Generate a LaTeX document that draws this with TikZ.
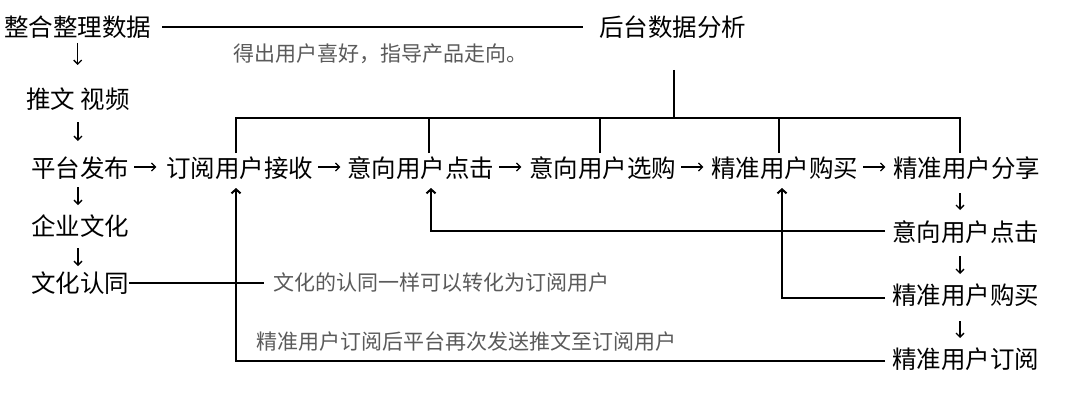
\documentclass[tikz,border=0pt]{standalone}
\usepackage{fontspec}
\newfontfamily\cjk{Noto Sans CJK SC}
\usetikzlibrary{arrows.meta}
\definecolor{notegray}{RGB}{90,90,90}
\begin{document}
\begin{tikzpicture}[x=1pt,y=-1pt,
  lbl/.style={font=\cjk\fontsize{24.5}{24.5}\selectfont, inner sep=0pt, anchor=west, text=black},
  note/.style={font=\cjk\fontsize{21}{21}\selectfont, inner sep=0pt, anchor=west, text=notegray},
  link/.style={line width=2pt},
  tarr/.style={line width=1.3pt, -{Straight Barb[length=4pt,width=8pt]}},
  farr/.style={line width=2pt, -{Straight Barb[length=4pt,width=9pt]}}
]
\useasboundingbox[fill=white] (0,0) rectangle (1074,404);

% top
\node[lbl] (n1) at (4,27) {整合整理数据};
\node[lbl] (n2) at (599,27) {后台数据分析};
\node[note] (g1) at (233,54) {得出用户喜好，指导产品走向。};
\draw[link, shorten <=11pt, shorten >=16pt] (n1.east) -- (n2.west);

% left column
\node[lbl] (n3) at (26,99) {推文 视频};
\node[lbl] (r1) at (31,168) {平台发布};
\node[lbl] (e1) at (31,226) {企业文化};
\node[lbl] (e2) at (31,283) {文化认同};
\node[note] (g2) at (273,283) {文化的认同一样可以转化为订阅用户};
\node[note] (g3) at (256,342) {精准用户订阅后平台再次发送推文至订阅用户};

\draw[tarr] (n1.south |- 0,43) -- (n1.south |- 0,65);
\draw[tarr] (n3.south |- 0,122) -- (n3.south |- 0,141);
\draw[tarr] (78,187) -- (78,205);
\draw[tarr] (78,248) -- (78,266);
\draw[link, shorten >=9pt] (e2.east) -- (e2.east -| g2.west);

% main row
\node[lbl] (r2) at (166,168) {订阅用户接收};
\node[lbl] (r3) at (347,168) {意向用户点击};
\node[lbl] (r4) at (529,168) {意向用户选购};
\node[lbl] (r5) at (711,168) {精准用户购买};
\node[lbl] (r6) at (893,168) {精准用户分享};

\foreach \a/\b in {r1/r2, r2/r3, r3/r4, r4/r5, r5/r6}
  \draw[tarr] ([xshift=5pt,yshift=1pt]\a.east) -- ([xshift=27pt,yshift=1pt]\a.east);

% right column
\node[lbl] (c1) at (892,232) {意向用户点击};
\node[lbl] (c2) at (892,295) {精准用户购买};
\node[lbl] (c3) at (892,359) {精准用户订阅};

\draw[tarr] (960,193) -- (960,210);
\draw[tarr] (960,256) -- (960,274);
\draw[tarr] (960,321) -- (960,338);

% tree from back-end analysis
\coordinate (top) at (674,70);
\coordinate (bus) at (674,118);
\coordinate (d2) at (236,153);
\coordinate (d3) at (429,153);
\coordinate (d4) at (600,153);
\coordinate (d5) at (779,153);
\coordinate (d6) at (960,153);
\draw[link] (top) -- (bus);
\draw[link] (d2) |- (bus) -| (d6);
\draw[link] (d3) -- (d3 |- bus);
\draw[link] (d4) -- (d4 |- bus);
\draw[link] (d5) -- (d5 |- bus);

% feedback lines
\coordinate (t2) at (236,188);
\coordinate (t3) at (431,188);
\coordinate (t5) at (782,188);
\draw[farr] ([xshift=-7pt]c3.west |- 0,361) -| (t2);
\draw[farr] ([xshift=-7pt]c1.west |- 0,231) -| (t3);
\draw[farr] ([xshift=-7pt]c2.west |- 0,298) -| (t5);
\end{tikzpicture}
\end{document}
